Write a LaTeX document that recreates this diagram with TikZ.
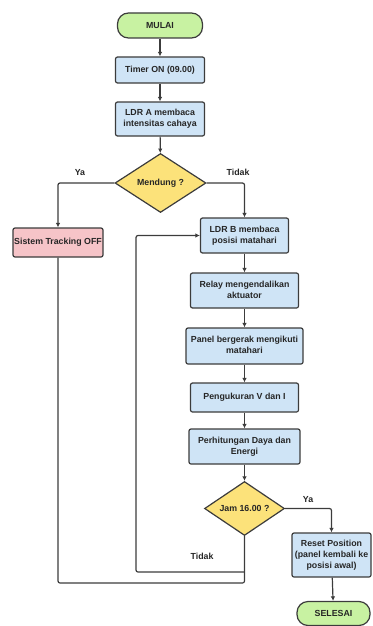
\documentclass[tikz,border=0pt]{standalone}
\usepackage{fontspec}
\setmainfont{Liberation Sans}
\usetikzlibrary{shapes.geometric,arrows.meta}
\definecolor{lnc}{HTML}{3C3C3C}
\definecolor{startc}{HTML}{C8F2A2}
\definecolor{procc}{HTML}{CFE4F6}
\definecolor{offc}{HTML}{F6C4C8}
\definecolor{decc}{HTML}{FCE27A}
\newcommand{\mlines}[1]{{\renewcommand{\arraystretch}{0.92}\begin{tabular}{@{}c@{}}#1\end{tabular}}}
\tikzset{
  base/.style={draw=lnc, line width=1.2pt, font=\bfseries\fontsize{8.8}{12}\selectfont, inner sep=1pt, text=black!85},
  term/.style={base, fill=startc, rounded corners=11pt},
  proc/.style={base, fill=procc, rounded corners=2pt},
  offbox/.style={base, fill=offc, rounded corners=2pt},
  dec/.style={base, fill=decc, diamond, aspect=1.6, inner sep=0pt},
  conn/.style={draw=lnc, line width=1.2pt, rounded corners=2pt},
  arr/.style={conn, -{Latex[length=4.5pt,width=4.5pt]}},
  lbl/.style={font=\bfseries\fontsize{8.8}{10}\selectfont, text=black!85}
}
\begin{document}
\begin{tikzpicture}[x=1pt,y=-1pt]
\useasboundingbox (0,0) rectangle (372,626);
\node[term, minimum width=85pt, minimum height=25pt] (start) at (160,25.5) {MULAI};
\node[proc, minimum width=89pt, minimum height=26pt] (timer) at (160,70) {Timer ON (09.00)};
\node[proc, minimum width=89pt, minimum height=34pt] (ldra) at (160,119) {\mlines{LDR A membaca\\intensitas cahaya}};
\node[dec, minimum width=91pt, minimum height=59pt] (mendung) at (160.5,183) {Mendung ?};
\node[offbox, minimum width=90pt, minimum height=29pt] (off) at (58,242.5) {Sistem Tracking OFF};
\node[proc, minimum width=88pt, minimum height=35pt] (ldrb) at (244.5,235.5) {\mlines{LDR B membaca\\posisi matahari}};
\node[proc, minimum width=108pt, minimum height=35pt] (relay) at (244.5,290.5) {\mlines{Relay mengendalikan\\aktuator}};
\node[proc, minimum width=117pt, minimum height=36pt] (panel) at (244.5,346) {\mlines{Panel bergerak mengikuti\\matahari}};
\node[proc, minimum width=108pt, minimum height=29pt] (ukur) at (244.5,397.5) {Pengukuran V dan I};
\node[proc, minimum width=111pt, minimum height=35pt] (hitung) at (244.5,446.5) {\mlines{Perhitungan Daya dan\\Energi}};
\node[dec, minimum width=80pt, minimum height=54pt] (jam) at (244.5,508.5) {Jam 16.00 ?};
\node[proc, minimum width=79pt, minimum height=44pt] (reset) at (331.5,555) {\mlines{Reset Position\\(panel kembali ke\\posisi awal)}};
\node[term, minimum width=73pt, minimum height=24pt] (selesai) at (333.5,613.5) {SELESAI};

\node[lbl] (lya1) at (80,173) {Ya};
\node[lbl] (ltidak1) at (238,172) {Tidak};
\node[lbl] (lya2) at (308,500) {Ya};
\node[lbl] (ltidak2) at (202,556) {Tidak};

\coordinate (ji) at (244.5,572);
\coordinate (jo) at (244.5,583);
\coordinate (li) at (136,572);
\coordinate (lo) at (58,583);

\draw[arr] (start) -- (timer);
\draw[arr] (timer) -- (ldra);
\draw[arr] (ldra) -- (mendung);
\draw[arr] (mendung.west) -| (off.north);
\draw[arr] (mendung.east) -| (ldrb.north);
\draw[arr] (ldrb) -- (relay);
\draw[arr] (relay) -- (panel);
\draw[arr] (panel) -- (ukur);
\draw[arr] (ukur) -- (hitung);
\draw[arr] (hitung) -- (jam);
\draw[arr] (jam.east) -| (reset.north);
\draw[arr] (reset) -- (selesai);
\draw[conn] (jam.south) -- (jo) -- (lo) -- (off.south);
\draw[arr] (ji) -- (li) |- (ldrb.west);
\end{tikzpicture}
\end{document}
